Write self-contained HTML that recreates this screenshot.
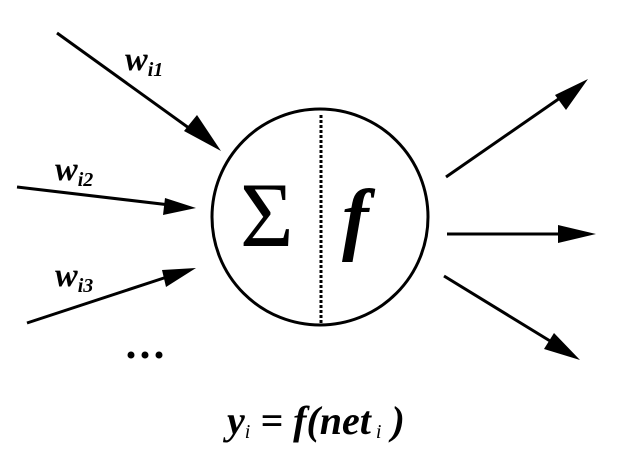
<!DOCTYPE html>
<html><head><style>body{margin:0;background:#fff}svg{display:block}
.t{font-family:"Liberation Serif","DejaVu Serif",serif;font-weight:bold;font-style:italic}
.s{font-family:"Liberation Serif","DejaVu Serif",serif}</style></head><body>
<svg width="642" height="457" viewBox="0 0 642 457" xmlns="http://www.w3.org/2000/svg">
<g stroke="#000" stroke-width="3" fill="none">
<circle cx="320" cy="217" r="108"/>
<line x1="57" y1="33" x2="200" y2="136"/>
<line x1="17" y1="187" x2="170" y2="205"/>
<line x1="27" y1="323" x2="170" y2="276"/>
<line x1="446" y1="177" x2="560" y2="98"/>
<line x1="447" y1="234" x2="570" y2="234"/>
<line x1="444" y1="276" x2="555" y2="344"/>
<line x1="321" y1="115" x2="321" y2="323" stroke-dasharray="3,2"/>
</g>
<g fill="#000">
<polygon points="221,151 184,131 197,115"/>
<polygon points="196,208 163,215 165,198"/>
<polygon points="196,268 166,287 162,270"/>
<polygon points="588,79 566,110 555,95"/>
<polygon points="596,234 558,243 558,225"/>
<polygon points="580,360 544,349 554,333"/>
<circle cx="131" cy="355" r="3.5"/><circle cx="145" cy="355" r="3.5"/><circle cx="159" cy="355" r="3.5"/>
</g>
<g class="t">
<text x="125" y="70" font-size="34">w<tspan font-size="20" dy="6">i1</tspan></text>
<text x="55" y="180" font-size="34">w<tspan font-size="20" dy="6">i2</tspan></text>
<text x="55" y="286" font-size="34">w<tspan font-size="20" dy="6">i3</tspan></text>
<text x="342" y="245" font-size="80">f</text>
<text x="227" y="434" font-size="40">y<tspan font-size="20" dy="4" font-weight="normal">i</tspan><tspan dy="-4"> = f(net</tspan><tspan font-size="20" dy="4" font-weight="normal"> i</tspan><tspan dy="-4"> )</tspan></text>
</g>
<text class="s" x="240" y="246" font-size="92">Σ</text>
</svg>
</body></html>
